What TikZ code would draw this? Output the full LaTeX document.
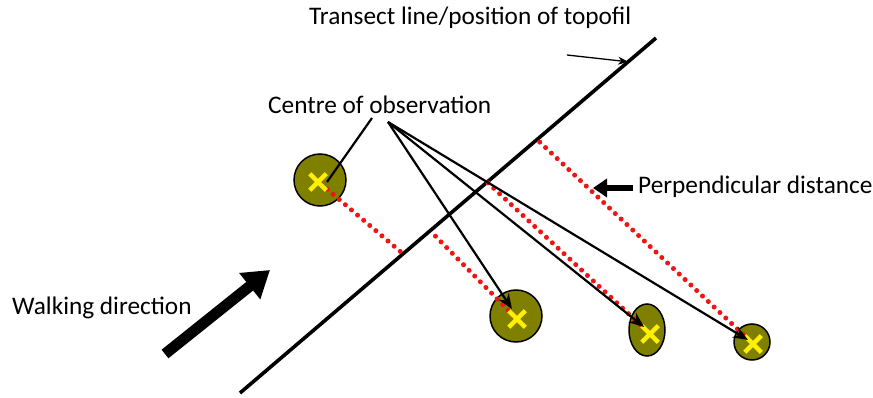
\documentclass[tikz,border=0pt]{standalone}
\usepackage{fontspec}
\setmainfont{Carlito}
\usetikzlibrary{shapes.geometric, shapes.misc, arrows.meta, calc}
\definecolor{cObs}{RGB}{128, 128, 0}
\definecolor{cMark}{RGB}{255, 240, 0}
\definecolor{cDist}{RGB}{240, 20, 20}

\begin{document}
\begin{tikzpicture}[
    x=1pt, y=-1pt,
    font=\fontsize{25.3}{29}\selectfont,
    >=Stealth,
    label/.style={inner sep=0pt, anchor=west},
    obs/.style={draw=black, line width=1.5pt, fill=cObs, inner sep=0pt},
    cross/.style={draw=cMark, cross out, line width=4.5pt, minimum size=12pt, inner sep=0pt},
    pointer/.style={-{Stealth[length=15pt, width=12pt]}, line width=2.2pt},
    dist/.style={cDist, line width=5pt, line cap=round, dash pattern=on 0pt off 8pt}
]
\useasboundingbox (0,0) rectangle (873,398);

% transect line
\coordinate (tBot) at (240, 393);
\coordinate (tTop) at (656, 38);
\draw[line width=3.6pt] (tBot) -- (tTop);

\node[label] (transect) at (309, 18) {Transect line/position of topofil};
\coordinate (tPoint) at (567, 55);
\draw[-{Stealth[length=10pt, width=8pt]}, line width=1.3pt] (tPoint) -- ($(tBot)!0.933!(tTop)$);

% observations
\node[obs, circle, minimum size=52pt] (obs1) at (320, 180) {};
\node[obs, circle, minimum size=52pt] (obs2) at (516, 316) {};
\node[obs, ellipse, minimum width=36pt, minimum height=52pt] (obs3) at (647, 330) {};
\node[obs, circle, minimum size=36pt] (obs4) at (752, 342) {};

% perpendicular distances
\draw[dist] (321, 184) -- ($(tBot)!0.392!(tTop)$);
\draw[dist] (514, 316) -- ($(tBot)!0.457!(tTop)$);
\draw[dist] (646, 330) -- ($(tBot)!0.594!(tTop)$);
\draw[dist] (749, 340) -- ($(tBot)!0.714!(tTop)$);

\node[cross] (x1) at (318, 182) {};
\node[cross] (x2) at (517, 319) {};
\node[cross] (x3) at (650, 334) {};
\node[cross] (x4) at (753, 344) {};

% centre of observation
\node[label] (centre) at (268, 105) {Centre of observation};
\coordinate (hubA) at (372, 118);
\coordinate (hub) at (388, 122);
\draw[line width=2.2pt] (hubA) -- (327, 182);
\draw[pointer] (hub) -- (512, 309);
\draw[pointer] (hub) -- (644, 327);
\draw[pointer] (hub) -- (748, 340);

% perpendicular distance label
\node[label] (perp) at (638, 187) {Perpendicular distance};
\coordinate (pTail) at (633, 188);
\draw[-{Triangle[length=14pt, width=18pt]}, line width=6pt] (pTail) -- (593, 188);

% walking direction
\node[label] (walk) at (12, 308) {Walking direction};
\coordinate (wTail) at (165, 354);
\draw[-{Triangle[length=26pt, width=32pt]}, line width=11pt] (wTail) -- (270, 270);

\end{tikzpicture}
\end{document}
